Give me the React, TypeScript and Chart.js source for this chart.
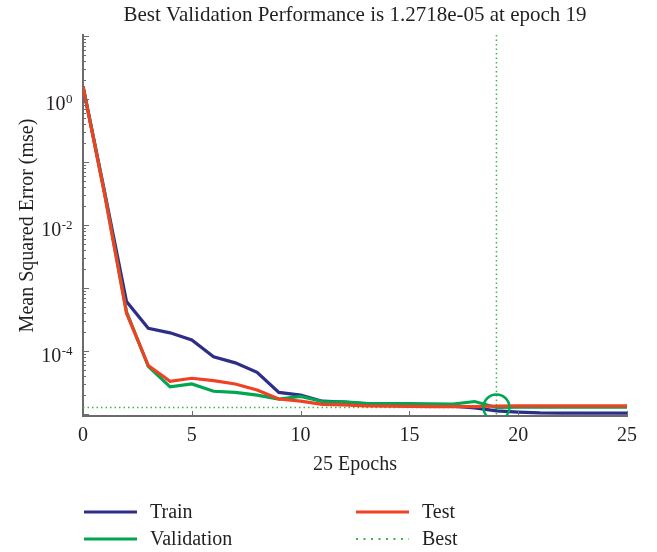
import React, { useEffect, useRef } from 'react';
import { Chart, registerables } from 'chart.js';
Chart.register(...registerables);

const epochs = [0, 1, 2, 3, 4, 5, 6, 7, 8, 9, 10, 11, 12, 13, 14, 15, 16, 17, 18, 19, 20, 21, 22, 23, 24, 25];
const train = [1.6, 0.033, 6.1e-4, 2.3e-4, 1.95e-4, 1.5e-4, 8.1e-5, 6.5e-5, 4.6e-5, 2.2e-5, 2.0e-5, 1.6e-5, 1.55e-5, 1.45e-5, 1.4e-5, 1.38e-5, 1.36e-5, 1.33e-5, 1.25e-5, 1.12e-5, 1.07e-5, 1.04e-5, 1.03e-5, 1.03e-5, 1.03e-5, 1.03e-5];
const validation = [1.6, 0.031, 4.2e-4, 5.7e-5, 2.7e-5, 3.0e-5, 2.3e-5, 2.2e-5, 2.0e-5, 1.72e-5, 1.9e-5, 1.58e-5, 1.56e-5, 1.48e-5, 1.47e-5, 1.46e-5, 1.45e-5, 1.44e-5, 1.58e-5, 1.2718e-5, 1.28e-5, 1.28e-5, 1.28e-5, 1.28e-5, 1.28e-5, 1.28e-5];
const test = [1.6, 0.03, 4.0e-4, 5.9e-5, 3.3e-5, 3.7e-5, 3.4e-5, 3.0e-5, 2.4e-5, 1.73e-5, 1.6e-5, 1.42e-5, 1.4e-5, 1.35e-5, 1.33e-5, 1.32e-5, 1.31e-5, 1.31e-5, 1.31e-5, 1.34e-5, 1.35e-5, 1.35e-5, 1.35e-5, 1.35e-5, 1.35e-5, 1.35e-5];
const bestEpoch = 19;
const bestValue = 1.2718e-5;
const xTickValues = [0, 5, 10, 15, 20, 25];
const yLabelExponents = [0, -2, -4];
const titleText = 'Best Validation Performance is 1.2718e-05 at epoch 19';
const xTitle = '25 Epochs';
const yTitle = 'Mean Squared Error (mse)';

const BLUE = '#2e2d88';
const GREEN = '#00a651';
const RED = '#ef4123';
const BEST = '#3cb54a';
const AXIS = '#6b6b6b';
const TEXT = '#231f20';
const FONT = '"Liberation Serif", "Times New Roman", serif';
const Y_MIN = 9.3e-6;
const Y_MAX = 10.5;

const decor = {
  id: 'decor',
  afterDraw(chart: any) {
    const ctx = chart.ctx;
    const { left, bottom } = chart.chartArea;
    const xs = chart.scales.x;
    const ys = chart.scales.y;
    ctx.save();
    ctx.strokeStyle = AXIS;
    ctx.lineWidth = 1;
    ys.ticks.forEach((t: any) => {
      const v = t.value;
      const py = Math.round(ys.getPixelForValue(v)) + 0.5;
      const e = Math.floor(Math.log10(v) + 1e-9);
      const m = v / Math.pow(10, e);
      const len = Math.abs(m - 1) < 1e-6 ? 6 : 3;
      ctx.beginPath();
      ctx.moveTo(left, py);
      ctx.lineTo(left + len, py);
      ctx.stroke();
    });
    xs.ticks.forEach((t: any) => {
      const px = Math.round(xs.getPixelForValue(t.value)) + 0.5;
      ctx.beginPath();
      ctx.moveTo(px, bottom);
      ctx.lineTo(px, bottom - 5);
      ctx.stroke();
    });
    // y labels with superscript exponents
    ctx.fillStyle = TEXT;
    ctx.textBaseline = 'alphabetic';
    ctx.textAlign = 'left';
    yLabelExponents.forEach((e) => {
      const py = ys.getPixelForValue(Math.pow(10, e));
      ctx.font = '20px ' + FONT;
      const baseW = ctx.measureText('10').width;
      ctx.font = '13px ' + FONT;
      const expStr = String(e);
      const expW = ctx.measureText(expStr).width;
      const right = left - 11;
      const x0 = right - expW - baseW;
      ctx.font = '20px ' + FONT;
      ctx.fillText('10', x0, py + 11);
      ctx.font = '13px ' + FONT;
      ctx.fillText(expStr, x0 + baseW + 0.5, py + 4);
    });
    // legend
    const items = chart.data.datasets.filter((d: any) => d.inLegend);
    const slots = [
      { x: 84, y: 512 },
      { x: 84, y: 539 },
      { x: 356, y: 512 },
      { x: 356, y: 539 },
    ];
    items.forEach((d: any) => {
      const s = slots[d.legendSlot];
      ctx.strokeStyle = d.borderColor;
      ctx.lineWidth = d.legendDash ? 2 : 3;
      ctx.setLineDash(d.legendDash || []);
      ctx.beginPath();
      ctx.moveTo(s.x, s.y);
      ctx.lineTo(s.x + 53, s.y);
      ctx.stroke();
      ctx.setLineDash([]);
      ctx.fillStyle = TEXT;
      ctx.font = '20px ' + FONT;
      ctx.textBaseline = 'middle';
      ctx.fillText(d.label, s.x + 66, s.y + 1);
    });
    ctx.restore();
  },
};

export default function App() {
  const ref = useRef<HTMLCanvasElement>(null);
  useEffect(() => {
    const pts = (arr: number[]) => epochs.map((x, i) => ({ x, y: arr[i] }));
    const chart = new Chart(ref.current as HTMLCanvasElement, {
      type: 'line',
      data: {
        datasets: [
          {
            label: 'Best marker',
            data: [{ x: bestEpoch, y: bestValue }],
            showLine: false,
            pointRadius: 13,
            pointBorderWidth: 2.5,
            pointBorderColor: GREEN,
            pointBackgroundColor: 'rgba(0,0,0,0)',
            borderColor: GREEN,
            order: 0,
          } as any,
          {
            label: 'Test',
            data: pts(test),
            borderColor: RED,
            borderWidth: 3.2,
            pointRadius: 0,
            order: 1,
            inLegend: true,
            legendSlot: 2,
          } as any,
          {
            label: 'Validation',
            data: pts(validation),
            borderColor: GREEN,
            borderWidth: 3.2,
            pointRadius: 0,
            order: 2,
            inLegend: true,
            legendSlot: 1,
          } as any,
          {
            label: 'Train',
            data: pts(train),
            borderColor: BLUE,
            borderWidth: 3.2,
            pointRadius: 0,
            order: 3,
            inLegend: true,
            legendSlot: 0,
          } as any,
          {
            label: 'Best',
            data: [
              { x: 0, y: bestValue },
              { x: 25, y: bestValue },
              { x: bestEpoch, y: null },
              { x: bestEpoch, y: Y_MAX },
              { x: bestEpoch, y: Y_MIN },
            ],
            borderColor: BEST,
            borderWidth: 1.5,
            borderDash: [1.5, 3],
            pointRadius: 0,
            spanGaps: false,
            order: 4,
            inLegend: true,
            legendSlot: 3,
            legendDash: [2, 5.5],
          } as any,
        ],
      },
      options: {
        animation: false,
        responsive: false,
        events: [],
        layout: { padding: { left: 0, right: 30, top: 0, bottom: 72 } },
        plugins: {
          legend: { display: false },
          tooltip: { enabled: false },
          title: {
            display: true,
            text: titleText,
            color: TEXT,
            fullSize: false,
            font: { family: FONT, size: 21, weight: 'normal' },
            padding: { top: 3, bottom: 6.8 },
          },
        },
        scales: {
          x: {
            type: 'linear',
            min: 0,
            max: 25,
            afterBuildTicks: (s: any) => {
              s.ticks = xTickValues.map((v) => ({ value: v }));
            },
            afterFit: (s: any) => {
              s.height = 64;
            },
            grid: { display: false, drawTicks: false },
            border: { display: true, color: AXIS, width: 2 },
            ticks: {
              color: TEXT,
              padding: 8,
              maxRotation: 0,
              font: { family: FONT, size: 20 },
            },
            title: {
              display: true,
              text: xTitle,
              color: TEXT,
              font: { family: FONT, size: 20 },
              padding: { top: 0, bottom: 3 },
            },
          },
          y: {
            type: 'logarithmic',
            min: Y_MIN,
            max: Y_MAX,
            afterBuildTicks: (s: any) => {
              const t: any[] = [];
              for (let e = -6; e <= 1; e++) {
                for (let m = 1; m <= 9; m++) {
                  const v = m * Math.pow(10, e);
                  if (v >= Y_MIN && v <= Y_MAX) t.push({ value: v });
                }
              }
              s.ticks = t;
            },
            afterFit: (s: any) => {
              s.width = 83;
            },
            grid: { display: false, drawTicks: false },
            border: { display: true, color: AXIS, width: 2 },
            ticks: { display: true, callback: () => '', font: { size: 1 } },
            title: {
              display: true,
              text: yTitle,
              color: TEXT,
              font: { family: FONT, size: 20 },
              padding: { top: 16, bottom: 0 },
            },
          },
        },
      },
      plugins: [decor],
    } as any);
    return () => chart.destroy();
  }, []);
  return (
    <div style={{ position: 'absolute', left: 0, top: 0, width: 657, height: 552, background: '#fff' }}>
      <canvas ref={ref} width={657} height={552} />
    </div>
  );
}
